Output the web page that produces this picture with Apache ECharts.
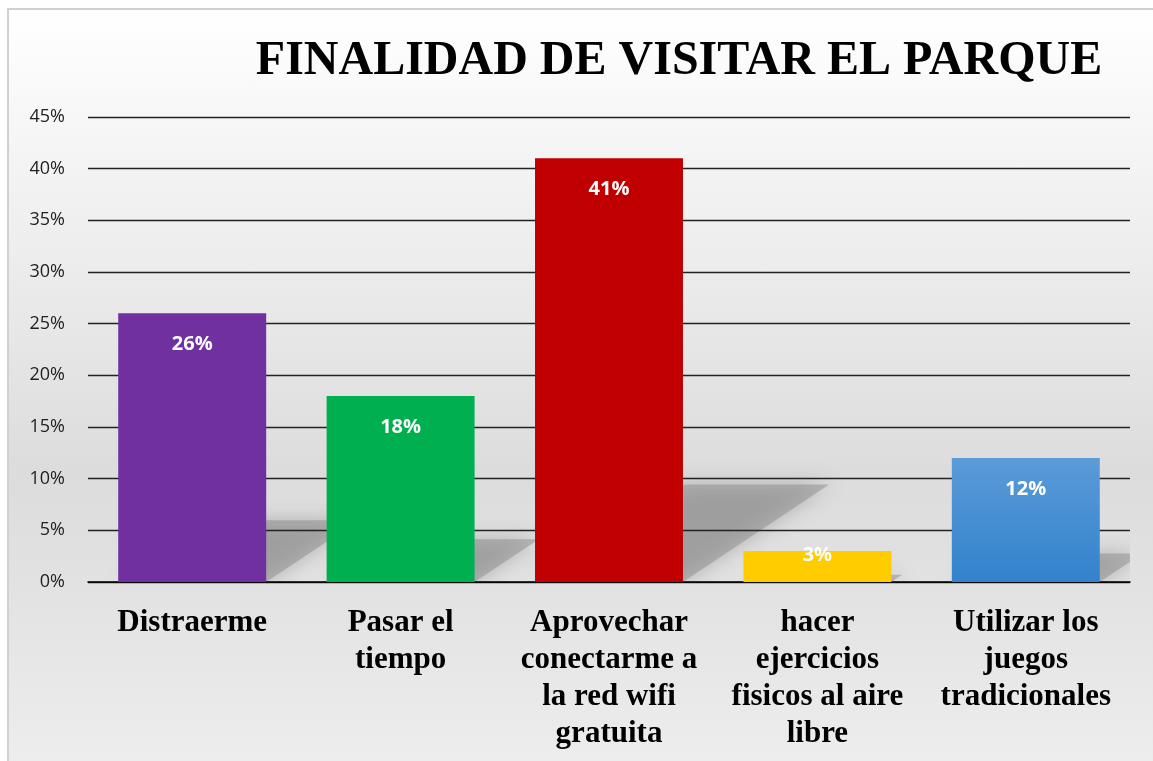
<!DOCTYPE html>
<html>
<head>
<meta charset="utf-8">
<script src="https://cdn.jsdelivr.net/npm/echarts@6/dist/echarts.min.js"></script>
<style>
  html, body { margin: 0; padding: 0; background: #fff; }
  #frame {
    position: absolute; left: 7px; top: 8px; width: 1160px; height: 770px;
    border-left: 2px solid #d0d0d0; border-top: 2px solid #d0d0d0;
    background: linear-gradient(to bottom, #ffffff 0%, #eeeeee 30%, #dcdcdc 60%, #e2e2e2 75%, #eeeeee 100%);
  }
  #chart { position: absolute; left: 0; top: 0; width: 1153px; height: 761px; }
</style>
</head>
<body>
<div id="frame"></div>
<div id="chart"></div>
<script>
    var categories = ['Distraerme', 'Pasar el\ntiempo', 'Aprovechar\nconectarme a\nla red wifi\ngratuita', 'hacer\nejercicios\nfisicos al aire\nlibre', 'Utilizar los\njuegos\ntradicionales'];
    var values = [26, 18, 41, 3, 12];
    var yTicks = [0, 5, 10, 15, 20, 25, 30, 35, 40, 45];

    // colores de cada barra
    var barColors = [
        '#7030A0',
        '#00B050',
        '#C00000',
        '#FFCC00',
        new echarts.graphic.LinearGradient(0, 0, 0, 1, [
            { offset: 0, color: '#5B9BD8' },
            { offset: 1, color: '#3282CC' }
        ])
    ];

    var barWidthRatio = 0.71;

    // sombra inclinada detras de cada barra
    function renderShadow(params, api) {
        var idx = api.value(0);
        var base = api.coord([idx, 0]);
        var top = api.coord([idx, api.value(1)]);
        var bw = api.size([1, 0])[0] * barWidthRatio;
        var h = base[1] - top[1];
        var dy = h * 0.23;
        var dx = dy * 1.5;
        var x0 = base[0] - bw / 2 + 4, x1 = base[0] + bw / 2, y0 = base[1];
        return {
            type: 'polygon',
            shape: {
                points: [[x0, y0], [x1, y0], [x1 + dx, y0 - dy], [x0 + dx, y0 - dy]]
            },
            style: {
                fill: 'rgba(140,140,140,0.5)',
                shadowBlur: 20,
                shadowColor: 'rgba(110,110,110,0.8)'
            }
        };
    }

    var chart = echarts.init(document.getElementById('chart'));

    chart.setOption({
        title: {
            text: 'FINALIDAD DE VISITAR EL PARQUE',
            left: 674,
            textAlign: 'center',
            top: 33,
            textStyle: {
                fontFamily: 'Liberation Serif',
                fontWeight: 'bold',
                fontSize: 48,
                color: '#000'
            }
        },
        grid: {
            left: 88,
            right: 23,
            top: 117,
            bottom: 179
        },
        xAxis: {
            type: 'category',
            data: categories,
            zlevel: 1,
            axisTick: { show: false },
            axisLine: { lineStyle: { color: '#000', width: 1.5 } },
            axisLabel: {
                interval: 0,
                margin: 22,
                lineHeight: 37,
                fontFamily: 'Liberation Serif',
                fontWeight: 'bold',
                fontSize: 31,
                color: '#000'
            }
        },
        yAxis: {
            type: 'value',
            min: yTicks[0],
            max: yTicks[yTicks.length - 1],
            interval: 5,
            zlevel: 1,
            axisLine: { show: false },
            axisTick: { show: false },
            splitLine: { lineStyle: { color: '#222', width: 1.3 } },
            axisLabel: {
                margin: 23,
                fontFamily: 'Open Sans',
                fontSize: 18,
                color: '#222',
                formatter: '{value}%'
            }
        },
        series: [{
            type: 'custom',
            zlevel: 0,
            silent: true,
            clip: true,
            renderItem: renderShadow,
            data: values.map(function (v, i) { return [i, v]; })
        }, {
            type: 'bar',
            zlevel: 1,
            z: 5,
            barWidth: (barWidthRatio * 100) + '%',
            data: values.map(function (v, i) {
                var item = { value: v, itemStyle: { color: barColors[i] } };
                if (v < 5) {
                    item.label = { distance: -6 };
                }
                return item;
            }),
            label: {
                show: true,
                position: 'insideTop',
                distance: 21,
                formatter: '{c}%',
                fontFamily: 'Open Sans',
                fontWeight: 'bold',
                fontSize: 20,
                color: '#fff'
            }
        }]
    });
</script>
</body>
</html>
